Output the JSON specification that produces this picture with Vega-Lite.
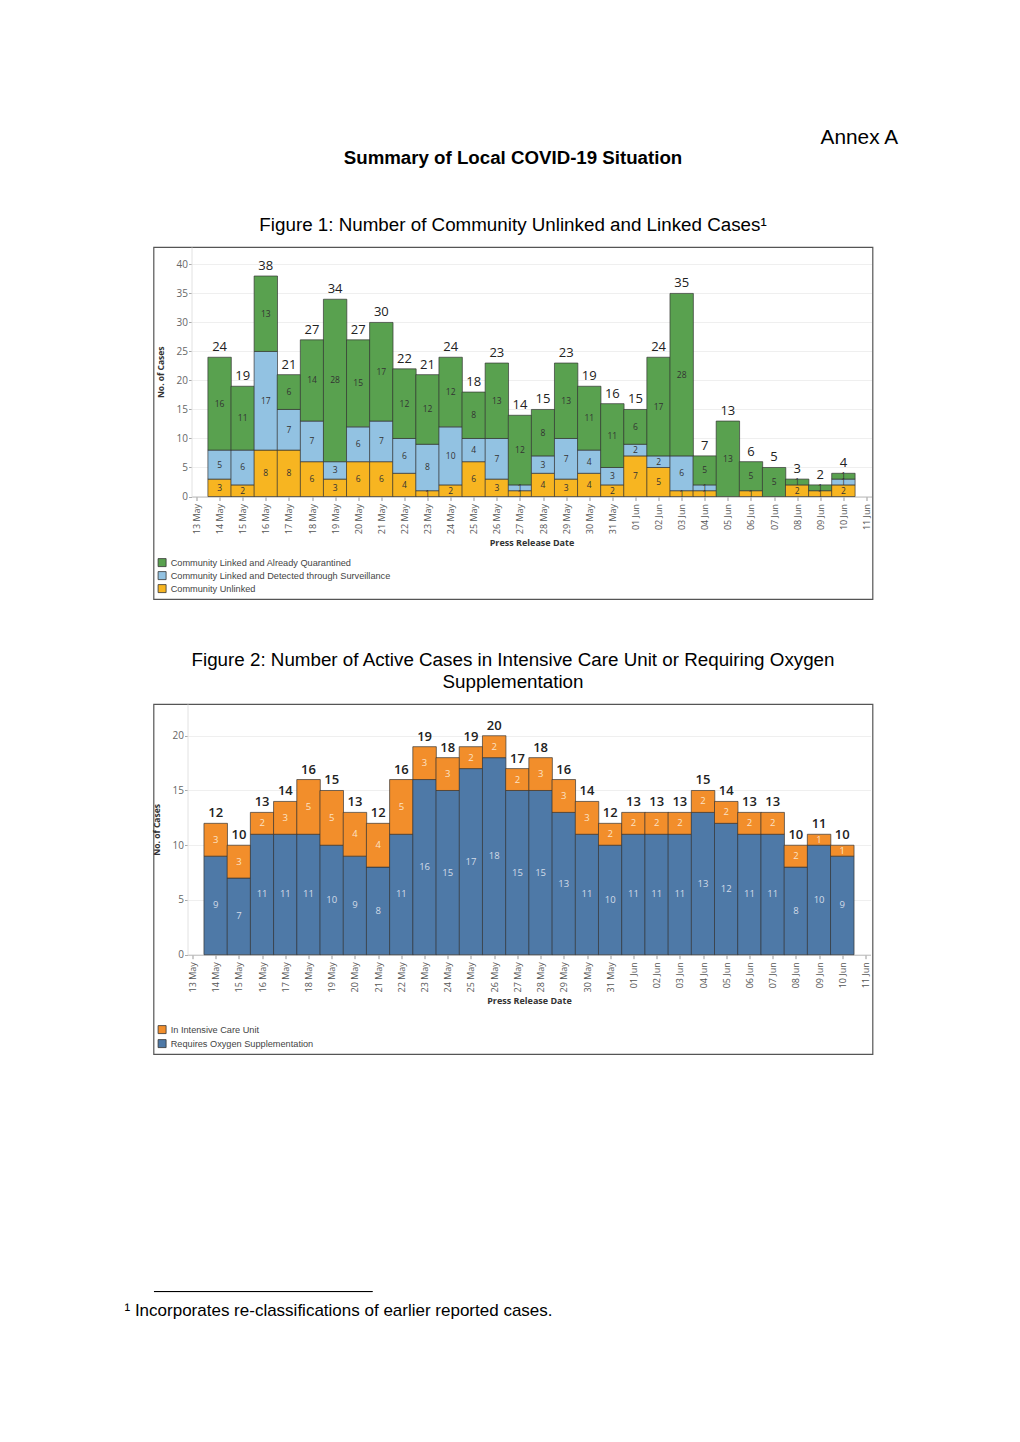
{
  "$schema": "https://vega.github.io/schema/vega-lite/v6.json",
  "padding": {"left": 123.5, "top": 127, "right": 0, "bottom": 0},
  "background": "white",
  "title": {"text": "Annex A", "anchor": "end", "frame": "bounds", "fontSize": 20.8, "fontWeight": "normal", "font": "Liberation Sans", "color": "#000", "dx": 25, "offset": -1},
  "datasets": {
    "d1": [
      {"date": "2020/05/14", "series": "Community Unlinked", "value": 3},
      {"date": "2020/05/14", "series": "Community Linked and Detected through Surveillance", "value": 5},
      {"date": "2020/05/14", "series": "Community Linked and Already Quarantined", "value": 16},
      {"date": "2020/05/15", "series": "Community Unlinked", "value": 2},
      {"date": "2020/05/15", "series": "Community Linked and Detected through Surveillance", "value": 6},
      {"date": "2020/05/15", "series": "Community Linked and Already Quarantined", "value": 11},
      {"date": "2020/05/16", "series": "Community Unlinked", "value": 8},
      {"date": "2020/05/16", "series": "Community Linked and Detected through Surveillance", "value": 17},
      {"date": "2020/05/16", "series": "Community Linked and Already Quarantined", "value": 13},
      {"date": "2020/05/17", "series": "Community Unlinked", "value": 8},
      {"date": "2020/05/17", "series": "Community Linked and Detected through Surveillance", "value": 7},
      {"date": "2020/05/17", "series": "Community Linked and Already Quarantined", "value": 6},
      {"date": "2020/05/18", "series": "Community Unlinked", "value": 6},
      {"date": "2020/05/18", "series": "Community Linked and Detected through Surveillance", "value": 7},
      {"date": "2020/05/18", "series": "Community Linked and Already Quarantined", "value": 14},
      {"date": "2020/05/19", "series": "Community Unlinked", "value": 3},
      {"date": "2020/05/19", "series": "Community Linked and Detected through Surveillance", "value": 3},
      {"date": "2020/05/19", "series": "Community Linked and Already Quarantined", "value": 28},
      {"date": "2020/05/20", "series": "Community Unlinked", "value": 6},
      {"date": "2020/05/20", "series": "Community Linked and Detected through Surveillance", "value": 6},
      {"date": "2020/05/20", "series": "Community Linked and Already Quarantined", "value": 15},
      {"date": "2020/05/21", "series": "Community Unlinked", "value": 6},
      {"date": "2020/05/21", "series": "Community Linked and Detected through Surveillance", "value": 7},
      {"date": "2020/05/21", "series": "Community Linked and Already Quarantined", "value": 17},
      {"date": "2020/05/22", "series": "Community Unlinked", "value": 4},
      {"date": "2020/05/22", "series": "Community Linked and Detected through Surveillance", "value": 6},
      {"date": "2020/05/22", "series": "Community Linked and Already Quarantined", "value": 12},
      {"date": "2020/05/23", "series": "Community Unlinked", "value": 1},
      {"date": "2020/05/23", "series": "Community Linked and Detected through Surveillance", "value": 8},
      {"date": "2020/05/23", "series": "Community Linked and Already Quarantined", "value": 12},
      {"date": "2020/05/24", "series": "Community Unlinked", "value": 2},
      {"date": "2020/05/24", "series": "Community Linked and Detected through Surveillance", "value": 10},
      {"date": "2020/05/24", "series": "Community Linked and Already Quarantined", "value": 12},
      {"date": "2020/05/25", "series": "Community Unlinked", "value": 6},
      {"date": "2020/05/25", "series": "Community Linked and Detected through Surveillance", "value": 4},
      {"date": "2020/05/25", "series": "Community Linked and Already Quarantined", "value": 8},
      {"date": "2020/05/26", "series": "Community Unlinked", "value": 3},
      {"date": "2020/05/26", "series": "Community Linked and Detected through Surveillance", "value": 7},
      {"date": "2020/05/26", "series": "Community Linked and Already Quarantined", "value": 13},
      {"date": "2020/05/27", "series": "Community Unlinked", "value": 1},
      {"date": "2020/05/27", "series": "Community Linked and Detected through Surveillance", "value": 1},
      {"date": "2020/05/27", "series": "Community Linked and Already Quarantined", "value": 12},
      {"date": "2020/05/28", "series": "Community Unlinked", "value": 4},
      {"date": "2020/05/28", "series": "Community Linked and Detected through Surveillance", "value": 3},
      {"date": "2020/05/28", "series": "Community Linked and Already Quarantined", "value": 8},
      {"date": "2020/05/29", "series": "Community Unlinked", "value": 3},
      {"date": "2020/05/29", "series": "Community Linked and Detected through Surveillance", "value": 7},
      {"date": "2020/05/29", "series": "Community Linked and Already Quarantined", "value": 13},
      {"date": "2020/05/30", "series": "Community Unlinked", "value": 4},
      {"date": "2020/05/30", "series": "Community Linked and Detected through Surveillance", "value": 4},
      {"date": "2020/05/30", "series": "Community Linked and Already Quarantined", "value": 11},
      {"date": "2020/05/31", "series": "Community Unlinked", "value": 2},
      {"date": "2020/05/31", "series": "Community Linked and Detected through Surveillance", "value": 3},
      {"date": "2020/05/31", "series": "Community Linked and Already Quarantined", "value": 11},
      {"date": "2020/06/01", "series": "Community Unlinked", "value": 7},
      {"date": "2020/06/01", "series": "Community Linked and Detected through Surveillance", "value": 2},
      {"date": "2020/06/01", "series": "Community Linked and Already Quarantined", "value": 6},
      {"date": "2020/06/02", "series": "Community Unlinked", "value": 5},
      {"date": "2020/06/02", "series": "Community Linked and Detected through Surveillance", "value": 2},
      {"date": "2020/06/02", "series": "Community Linked and Already Quarantined", "value": 17},
      {"date": "2020/06/03", "series": "Community Unlinked", "value": 1},
      {"date": "2020/06/03", "series": "Community Linked and Detected through Surveillance", "value": 6},
      {"date": "2020/06/03", "series": "Community Linked and Already Quarantined", "value": 28},
      {"date": "2020/06/04", "series": "Community Unlinked", "value": 1},
      {"date": "2020/06/04", "series": "Community Linked and Detected through Surveillance", "value": 1},
      {"date": "2020/06/04", "series": "Community Linked and Already Quarantined", "value": 5},
      {"date": "2020/06/05", "series": "Community Linked and Already Quarantined", "value": 13},
      {"date": "2020/06/06", "series": "Community Unlinked", "value": 1},
      {"date": "2020/06/06", "series": "Community Linked and Already Quarantined", "value": 5},
      {"date": "2020/06/07", "series": "Community Linked and Already Quarantined", "value": 5},
      {"date": "2020/06/08", "series": "Community Unlinked", "value": 2},
      {"date": "2020/06/08", "series": "Community Linked and Already Quarantined", "value": 1},
      {"date": "2020/06/09", "series": "Community Unlinked", "value": 1},
      {"date": "2020/06/09", "series": "Community Linked and Already Quarantined", "value": 1},
      {"date": "2020/06/10", "series": "Community Unlinked", "value": 2},
      {"date": "2020/06/10", "series": "Community Linked and Detected through Surveillance", "value": 1},
      {"date": "2020/06/10", "series": "Community Linked and Already Quarantined", "value": 1}
    ],
    "d2": [
      {"date": "2020/05/14", "series": "Requires Oxygen Supplementation", "value": 9},
      {"date": "2020/05/14", "series": "In Intensive Care Unit", "value": 3},
      {"date": "2020/05/15", "series": "Requires Oxygen Supplementation", "value": 7},
      {"date": "2020/05/15", "series": "In Intensive Care Unit", "value": 3},
      {"date": "2020/05/16", "series": "Requires Oxygen Supplementation", "value": 11},
      {"date": "2020/05/16", "series": "In Intensive Care Unit", "value": 2},
      {"date": "2020/05/17", "series": "Requires Oxygen Supplementation", "value": 11},
      {"date": "2020/05/17", "series": "In Intensive Care Unit", "value": 3},
      {"date": "2020/05/18", "series": "Requires Oxygen Supplementation", "value": 11},
      {"date": "2020/05/18", "series": "In Intensive Care Unit", "value": 5},
      {"date": "2020/05/19", "series": "Requires Oxygen Supplementation", "value": 10},
      {"date": "2020/05/19", "series": "In Intensive Care Unit", "value": 5},
      {"date": "2020/05/20", "series": "Requires Oxygen Supplementation", "value": 9},
      {"date": "2020/05/20", "series": "In Intensive Care Unit", "value": 4},
      {"date": "2020/05/21", "series": "Requires Oxygen Supplementation", "value": 8},
      {"date": "2020/05/21", "series": "In Intensive Care Unit", "value": 4},
      {"date": "2020/05/22", "series": "Requires Oxygen Supplementation", "value": 11},
      {"date": "2020/05/22", "series": "In Intensive Care Unit", "value": 5},
      {"date": "2020/05/23", "series": "Requires Oxygen Supplementation", "value": 16},
      {"date": "2020/05/23", "series": "In Intensive Care Unit", "value": 3},
      {"date": "2020/05/24", "series": "Requires Oxygen Supplementation", "value": 15},
      {"date": "2020/05/24", "series": "In Intensive Care Unit", "value": 3},
      {"date": "2020/05/25", "series": "Requires Oxygen Supplementation", "value": 17},
      {"date": "2020/05/25", "series": "In Intensive Care Unit", "value": 2},
      {"date": "2020/05/26", "series": "Requires Oxygen Supplementation", "value": 18},
      {"date": "2020/05/26", "series": "In Intensive Care Unit", "value": 2},
      {"date": "2020/05/27", "series": "Requires Oxygen Supplementation", "value": 15},
      {"date": "2020/05/27", "series": "In Intensive Care Unit", "value": 2},
      {"date": "2020/05/28", "series": "Requires Oxygen Supplementation", "value": 15},
      {"date": "2020/05/28", "series": "In Intensive Care Unit", "value": 3},
      {"date": "2020/05/29", "series": "Requires Oxygen Supplementation", "value": 13},
      {"date": "2020/05/29", "series": "In Intensive Care Unit", "value": 3},
      {"date": "2020/05/30", "series": "Requires Oxygen Supplementation", "value": 11},
      {"date": "2020/05/30", "series": "In Intensive Care Unit", "value": 3},
      {"date": "2020/05/31", "series": "Requires Oxygen Supplementation", "value": 10},
      {"date": "2020/05/31", "series": "In Intensive Care Unit", "value": 2},
      {"date": "2020/06/01", "series": "Requires Oxygen Supplementation", "value": 11},
      {"date": "2020/06/01", "series": "In Intensive Care Unit", "value": 2},
      {"date": "2020/06/02", "series": "Requires Oxygen Supplementation", "value": 11},
      {"date": "2020/06/02", "series": "In Intensive Care Unit", "value": 2},
      {"date": "2020/06/03", "series": "Requires Oxygen Supplementation", "value": 11},
      {"date": "2020/06/03", "series": "In Intensive Care Unit", "value": 2},
      {"date": "2020/06/04", "series": "Requires Oxygen Supplementation", "value": 13},
      {"date": "2020/06/04", "series": "In Intensive Care Unit", "value": 2},
      {"date": "2020/06/05", "series": "Requires Oxygen Supplementation", "value": 12},
      {"date": "2020/06/05", "series": "In Intensive Care Unit", "value": 2},
      {"date": "2020/06/06", "series": "Requires Oxygen Supplementation", "value": 11},
      {"date": "2020/06/06", "series": "In Intensive Care Unit", "value": 2},
      {"date": "2020/06/07", "series": "Requires Oxygen Supplementation", "value": 11},
      {"date": "2020/06/07", "series": "In Intensive Care Unit", "value": 2},
      {"date": "2020/06/08", "series": "Requires Oxygen Supplementation", "value": 8},
      {"date": "2020/06/08", "series": "In Intensive Care Unit", "value": 2},
      {"date": "2020/06/09", "series": "Requires Oxygen Supplementation", "value": 10},
      {"date": "2020/06/09", "series": "In Intensive Care Unit", "value": 1},
      {"date": "2020/06/10", "series": "Requires Oxygen Supplementation", "value": 9},
      {"date": "2020/06/10", "series": "In Intensive Care Unit", "value": 1}
    ],
    "note": [{"id": 1}]
  },
  "spacing": 232,
  "resolve": {"scale": {"color": "independent"}, "legend": {"color": "independent"}},
  "vconcat": [
    {
      "spacing": 50,
      "resolve": {"scale": {"color": "independent"}, "legend": {"color": "independent"}},
      "vconcat": [
        {
          "width": 719,
          "height": 352,
          "view": {"stroke": "#555", "strokeWidth": 1.2},
          "title": {"text": "Summary of Local COVID-19 Situation", "subtitle": "Figure 1: Number of Community Unlinked and Linked Cases¹", "anchor": "middle", "frame": "group", "fontSize": 18.7, "fontWeight": "bold", "subtitleFont": "Liberation Sans", "subtitleFontSize": 18.8, "subtitleColor": "#000", "subtitlePadding": 49, "offset": 12},
          "data": {"name": "d1"},
          "encoding": {
            "x": {"field": "date", "type": "temporal", "title": "Press Release Date",
              "scale": {"domain": [{"year": 2020, "month": 5, "date": 13}, {"year": 2020, "month": 6, "date": 11}], "range": [38, 718], "nice": false},
              "axis": {"offset": -102.5, "format": "%d %b", "tickCount": {"interval": "day", "step": 1}}}
          },
          "layer": [
            {
              "mark": {"type": "bar", "width": 23.4, "stroke": "#333", "strokeWidth": 0.8, "strokeOpacity": 0.85},
              "encoding": {
                "y": {"field": "value", "type": "quantitative", "aggregate": "sum", "stack": "zero", "title": "No. of Cases",
                  "scale": {"domain": [0, 43], "range": [249.5, 0], "nice": false},
                  "axis": {"offset": -38, "values": [0, 5, 10, 15, 20, 25, 30, 35, 40]}},
                "color": {"field": "series", "type": "nominal",
                  "scale": {"domain": ["Community Linked and Already Quarantined", "Community Linked and Detected through Surveillance", "Community Unlinked"], "range": ["#59A14F", "#92C2E2", "#F7B521"]},
                  "legend": {"orient": "bottom-left", "offset": 4, "rowPadding": 1}},
                "order": {"field": "series", "sort": "descending"}
              }
            },
            {
              "mark": {"type": "text", "fontSize": 8.5, "font": "Open Sans", "color": "#333", "baseline": "middle"},
              "encoding": {
                "y": {"field": "value", "type": "quantitative", "aggregate": "sum", "stack": "zero", "bandPosition": 0.5, "title": "No. of Cases"},
                "detail": {"field": "series", "type": "nominal"},
                "order": {"field": "series", "sort": "descending"},
                "text": {"field": "value", "type": "quantitative", "aggregate": "sum"}
              }
            },
            {
              "mark": {"type": "text", "fontSize": 13, "font": "Open Sans", "color": "#222", "baseline": "bottom", "dy": -3},
              "encoding": {
                "y": {"field": "value", "type": "quantitative", "aggregate": "sum", "title": "No. of Cases"},
                "text": {"field": "value", "type": "quantitative", "aggregate": "sum"}
              }
            }
          ]
        },
        {
          "width": 719,
          "height": 350,
          "view": {"stroke": "#555", "strokeWidth": 1.2},
          "title": {"text": ["Figure 2: Number of Active Cases in Intensive Care Unit or Requiring Oxygen", "Supplementation"], "anchor": "middle", "frame": "group", "fontSize": 18.8, "fontWeight": "normal", "lineHeight": 22, "offset": 12},
          "data": {"name": "d2"},
          "encoding": {
            "x": {"field": "date", "type": "temporal", "title": "Press Release Date",
              "scale": {"domain": [{"year": 2020, "month": 5, "date": 13}, {"year": 2020, "month": 6, "date": 11}], "range": [34, 717], "nice": false},
              "axis": {"offset": -99.3, "format": "%d %b", "tickCount": {"interval": "day", "step": 1}}}
          },
          "layer": [
            {
              "mark": {"type": "bar", "width": 23.5, "stroke": "#333", "strokeWidth": 0.8, "strokeOpacity": 0.85},
              "encoding": {
                "y": {"field": "value", "type": "quantitative", "aggregate": "sum", "stack": "zero", "title": "No. of Cases",
                  "scale": {"domain": [0, 22.9], "range": [250.7, 0], "nice": false},
                  "axis": {"offset": -34, "values": [0, 5, 10, 15, 20]}},
                "color": {"field": "series", "type": "nominal",
                  "scale": {"domain": ["In Intensive Care Unit", "Requires Oxygen Supplementation"], "range": ["#F28E2B", "#4E79A7"]},
                  "legend": {"orient": "bottom-left", "offset": 4, "rowPadding": 2}},
                "order": {"field": "series", "sort": "descending"}
              }
            },
            {
              "mark": {"type": "text", "fontSize": 9.5, "font": "Open Sans", "baseline": "middle"},
              "encoding": {
                "y": {"field": "value", "type": "quantitative", "aggregate": "sum", "stack": "zero", "bandPosition": 0.5, "title": "No. of Cases"},
                "detail": {"field": "series", "type": "nominal"},
                "order": {"field": "series", "sort": "descending"},
                "fill": {"condition": {"test": "datum.series === 'In Intensive Care Unit'", "value": "#FCE3C6"}, "value": "#D3DCE8"},
                "text": {"field": "value", "type": "quantitative", "aggregate": "sum"}
              }
            },
            {
              "mark": {"type": "text", "fontSize": 13, "font": "Open Sans", "fontWeight": 600, "color": "#222", "baseline": "bottom", "dy": -3},
              "encoding": {
                "y": {"field": "value", "type": "quantitative", "aggregate": "sum", "title": "No. of Cases"},
                "text": {"field": "value", "type": "quantitative", "aggregate": "sum"}
              }
            }
          ]
        }
      ]
    },
    {
      "width": 218.5,
      "height": 0.1,
      "view": {"stroke": "#000", "strokeWidth": 1},
      "data": {"name": "note"},
      "mark": {"type": "point", "opacity": 0},
      "encoding": {},
      "title": {"text": "¹ Incorporates re-classifications of earlier reported cases.", "orient": "bottom", "anchor": "start", "frame": "group", "dx": -29, "fontSize": 17, "fontWeight": "normal", "offset": 9}
    }
  ],
  "config": {
    "title": {"font": "Liberation Sans", "color": "#000"},
    "axis": {"labelFont": "Open Sans", "titleFont": "Open Sans", "titleFontWeight": "bold", "titleColor": "#333"},
    "axisX": {"labelAngle": 270, "labelFontSize": 9, "labelColor": "#555", "labelOverlap": false, "labelPadding": 3, "tickColor": "#999", "tickSize": 4, "domainColor": "#bbb", "grid": false, "titleFontSize": 9, "titlePadding": 5},
    "axisY": {"labelFontSize": 10, "labelColor": "#666", "labelPadding": 1, "tickColor": "#aaa", "tickSize": 3, "domainColor": "#e2e2e2", "grid": true, "gridColor": "#efefef", "titleFontSize": 8.5, "titlePadding": 11},
    "legend": {"title": null, "symbolType": "square", "symbolSize": 64, "symbolStrokeColor": "#333", "symbolStrokeWidth": 0.8, "symbolOpacity": 1, "labelFont": "Liberation Sans", "labelFontSize": 9.2, "labelLimit": 400, "labelColor": "#444", "padding": 0}
  }
}
